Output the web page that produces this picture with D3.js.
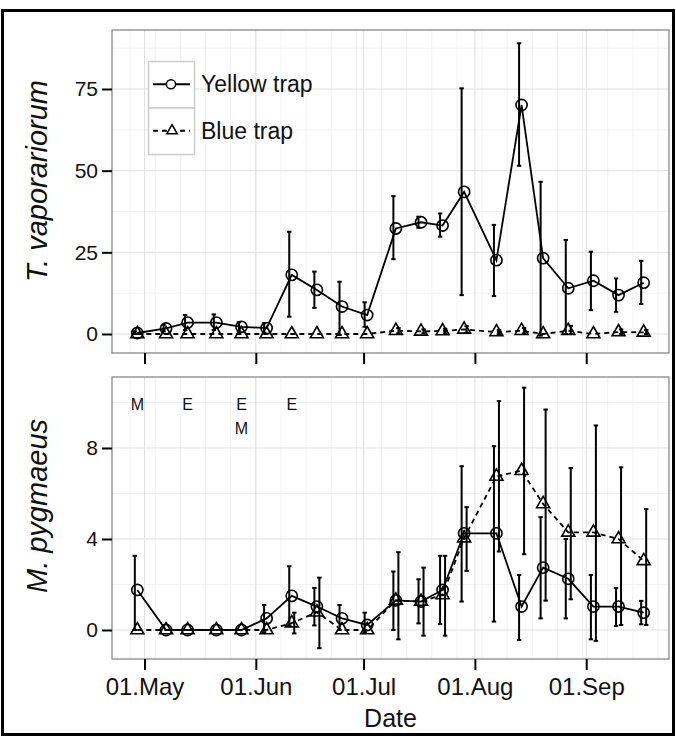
<!DOCTYPE html>
<html lang="en">
<head>
<meta charset="UTF-8">
<title>Traps</title>
<script src="https://cdnjs.cloudflare.com/ajax/libs/d3/7.8.5/d3.min.js"></script>
<style>
    body { margin: 0; background: #fff; }
    svg { display: block; font-family: "Liberation Sans", Arial, sans-serif; }
</style>
</head>
<body>
<svg width="676" height="737"></svg>
<script>
"use strict";

// sampling dates
const dates = ["2015-04-29", "2015-05-07", "2015-05-13", "2015-05-21", "2015-05-28", "2015-06-04", "2015-06-11",
    "2015-06-18", "2015-06-25", "2015-07-02", "2015-07-10", "2015-07-17", "2015-07-23", "2015-07-29",
    "2015-08-07", "2015-08-14", "2015-08-20", "2015-08-27", "2015-09-03", "2015-09-10", "2015-09-17"];

// T. vaporariorum
const tvYellow   = [0.3, 1.7, 3.5, 3.5, 2.2, 1.8, 18.1, 13.5, 8.4, 5.8, 32.3, 34.2, 33.2, 43.5, 22.6, 70.1, 23.2, 14.0, 16.3, 11.9, 15.7];
const tvYellowLo = [0.0, 0.8, 1.2, 1.2, 0.8, 0.4, 5.3, 8.0, -0.3, 2.2, 22.9, 32.5, 29.8, 11.9, 11.6, 51.5, -0.5, 0.0, 7.3, 6.8, 9.2];
const tvYellowHi = [0.8, 2.8, 5.8, 6.0, 3.6, 3.3, 31.3, 19.1, 16.0, 9.7, 42.2, 35.9, 36.9, 75.2, 33.4, 89.0, 46.6, 28.8, 25.2, 17.0, 22.4];
const tvBlue     = [0, 0, 0, 0, 0, 0, 0, 0, 0, 0, 1.0, 0.8, 0.9, 1.4, 0.6, 1.0, 0, 1.0, 0, 0.6, 0.5];
const tvBlueLo   = [0, 0, 0, 0, 0, 0, 0, 0, 0, 0, 0.2, 0.2, 0.2, 0.4, 0.0, 0.2, 0, 0.0, 0, 0.0, 0.0];
const tvBlueHi   = [0, 0, 0, 0, 0, 0, 0, 0, 0, 0, 1.8, 1.4, 1.6, 2.4, 1.2, 1.8, 0, 2.5, 0, 1.4, 1.2];

// M. pygmaeus
const mpYellow   = [1.76, 0, 0, 0, 0, 0.51, 1.5, 1.03, 0.51, 0.22, 1.3, 1.25, 1.76, 4.25, 4.25, 1.03, 2.74, 2.25, 1.03, 1.03, 0.76];
const mpYellowLo = [0, 0, 0, 0, 0, -0.1, 0.2, 0.2, 0, -0.1, 0, 0.29, 0.26, 1.25, 0.37, -0.44, 0.51, 0.51, -0.41, 0.18, 0.25];
const mpYellowHi = [3.26, 0, 0, 0, 0, 1.1, 2.8, 1.85, 1.1, 0.76, 2.57, 2.23, 3.26, 7.2, 8.08, 2.42, 4.96, 4.0, 2.42, 1.84, 1.28];
const mpBlue     = [0, 0, 0, 0, 0, 0, 0.3, 0.78, 0, 0, 1.3, 1.25, 1.54, 4.04, 6.75, 7.0, 5.54, 4.29, 4.29, 4.0, 3.04];
const mpBlueLo   = [0, 0, 0, 0, 0, 0, -0.15, -0.8, 0, 0, -0.41, -0.25, -0.25, 2.6, 3.45, 3.33, 1.29, 1.35, -0.48, 0.22, 0.22];
const mpBlueHi   = [0, 0, 0, 0, 0, 0, 0.76, 2.3, 0, 0, 3.42, 2.74, 3.26, 5.4, 10.06, 10.65, 9.69, 7.12, 8.99, 7.15, 5.31];

// release notes in the lower panel
const noteIdx  = [0, 2, 4, 6];
const noteText = [["M"], ["E"], ["E", "M"], ["E"]];
const noteY = 9.93;

const tvTicks = [0, 25, 50, 75];
const mpTicks = [0, 4, 8];
const seriesNames = ["Yellow trap", "Blue trap"];

const svg = d3.select("svg");
const parse = d3.timeParse("%Y-%m-%d");
const days = dates.map(parse);

const left = 112, right = 669;
const span = days[days.length - 1] - days[0];
const x = d3.scaleTime()
    .domain([new Date(+days[0] - 0.05 * span), new Date(+days[days.length - 1] + 0.05 * span)])
    .range([left, right]);

const monthTicks = d3.timeMonth.range(d3.timeMonth.ceil(x.domain()[0]), x.domain()[1]);
const weekTicks = d3.timeMonday.range(x.domain()[0], x.domain()[1]);

// outer frame
svg.append("rect")
    .attr("x", 2.5).attr("y", 10.5).attr("width", 671).attr("height", 724)
    .attr("fill", "none").attr("stroke", "#000").attr("stroke-width", 3);

function trianglePath(cx, cy, s) {
    const h = s * Math.sqrt(3) / 2;
    return `M${cx},${cy - h * 2 / 3}L${cx + s / 2},${cy + h / 3}L${cx - s / 2},${cy + h / 3}Z`;
}

function drawPanel(p) {
    const y = d3.scaleLinear().domain(p.domain).range([p.bottom, p.top]);
    const g = svg.append("g");

    g.append("rect")
        .attr("x", left).attr("y", p.top).attr("width", right - left).attr("height", p.bottom - p.top)
        .attr("fill", "#fff");

    // minor grid
    g.selectAll(".vminor").data(weekTicks).enter().append("line")
        .attr("x1", d => x(d)).attr("x2", d => x(d)).attr("y1", p.top).attr("y2", p.bottom)
        .attr("stroke", "#f2f2f2").attr("stroke-width", 1);
    g.selectAll(".hminor").data(p.minor).enter().append("line")
        .attr("x1", left).attr("x2", right).attr("y1", d => y(d)).attr("y2", d => y(d))
        .attr("stroke", "#f2f2f2").attr("stroke-width", 1);
    // major grid
    g.selectAll(".vmajor").data(monthTicks).enter().append("line")
        .attr("x1", d => x(d)).attr("x2", d => x(d)).attr("y1", p.top).attr("y2", p.bottom)
        .attr("stroke", "#e0e0e0").attr("stroke-width", 1);
    g.selectAll(".hmajor").data(p.ticks).enter().append("line")
        .attr("x1", left).attr("x2", right).attr("y1", d => y(d)).attr("y2", d => y(d))
        .attr("stroke", "#e0e0e0").attr("stroke-width", 1);

    const series = [
        { v: p.yellow, lo: p.yellowLo, hi: p.yellowHi, dx: -2.5, dash: null },
        { v: p.blue, lo: p.blueLo, hi: p.blueHi, dx: 2.5, dash: "5,4" },
    ];

    // error bars
    series.forEach(s => {
        const idx = d3.range(days.length).filter(i => s.hi[i] - s.lo[i] > 0);
        const eb = g.append("g").attr("stroke", "#000").attr("stroke-width", 2);
        eb.selectAll("line.bar").data(idx).enter().append("line")
            .attr("x1", i => x(days[i]) + s.dx).attr("x2", i => x(days[i]) + s.dx)
            .attr("y1", i => y(s.lo[i])).attr("y2", i => y(s.hi[i]));
        [s.lo, s.hi].forEach(arr => {
            eb.selectAll(null).data(idx).enter().append("line")
                .attr("x1", i => x(days[i]) + s.dx - 2.2).attr("x2", i => x(days[i]) + s.dx + 2.2)
                .attr("y1", i => y(arr[i])).attr("y2", i => y(arr[i]));
        });
    });

    // lines
    series.forEach(s => {
        const line = d3.line().x((d, i) => x(days[i])).y(d => y(d));
        g.append("path").datum(s.v)
            .attr("d", line).attr("fill", "none").attr("stroke", "#000")
            .attr("stroke-width", 1.8).attr("stroke-dasharray", s.dash);
    });

    // points
    g.selectAll("circle.pt").data(p.yellow).enter().append("circle")
        .attr("cx", (d, i) => x(days[i])).attr("cy", d => y(d)).attr("r", 5.6)
        .attr("fill", "none").attr("stroke", "#000").attr("stroke-width", 1.6);
    g.selectAll("path.tri").data(p.blue).enter().append("path")
        .attr("d", (d, i) => trianglePath(x(days[i]), y(d), 13))
        .attr("fill", "none").attr("stroke", "#000").attr("stroke-width", 1.6);

    // panel border
    g.append("rect")
        .attr("x", left).attr("y", p.top).attr("width", right - left).attr("height", p.bottom - p.top)
        .attr("fill", "none").attr("stroke", "#7f7f7f").attr("stroke-width", 1.2);

    // axes
    const yAxis = g.append("g").attr("transform", `translate(${left},0)`)
        .call(d3.axisLeft(y).tickValues(p.ticks).tickSize(10).tickPadding(4));
    yAxis.select(".domain").remove();
    yAxis.selectAll(".tick line").attr("stroke", "#000").attr("stroke-width", 2);
    yAxis.selectAll(".tick text").attr("font-size", 21).attr("fill", "#111")
        .attr("font-family", "Liberation Sans, Arial, sans-serif");

    const xAxis = g.append("g").attr("transform", `translate(0,${p.bottom})`)
        .call(d3.axisBottom(x).tickValues(monthTicks).tickFormat(d3.timeFormat("%d.%b")).tickSize(11).tickPadding(8));
    xAxis.select(".domain").remove();
    xAxis.selectAll(".tick line").attr("stroke", "#000").attr("stroke-width", 2);
    xAxis.selectAll(".tick text").attr("font-size", 24).attr("fill", "#111")
        .attr("font-family", "Liberation Sans, Arial, sans-serif");
    if (!p.xLabels) xAxis.selectAll(".tick text").remove();

    // axis title
    g.append("text")
        .attr("transform", `translate(47,${p.titleY}) rotate(-90)`)
        .attr("text-anchor", "middle").attr("font-size", 29).attr("font-style", "italic")
        .attr("fill", "#111").text(p.title);

    return y;
}

const yTop = drawPanel({
    top: 30, bottom: 353, domain: [-5.82, 93.06], ticks: tvTicks, minor: [12.5, 37.5, 62.5, 87.5],
    yellow: tvYellow, yellowLo: tvYellowLo, yellowHi: tvYellowHi,
    blue: tvBlue, blueLo: tvBlueLo, blueHi: tvBlueHi,
    title: "T. vaporariorum", titleY: 181, xLabels: false,
});

const yBot = drawPanel({
    top: 377, bottom: 659, domain: [-1.275, 11.12], ticks: mpTicks, minor: [2, 6, 10],
    yellow: mpYellow, yellowLo: mpYellowLo, yellowHi: mpYellowHi,
    blue: mpBlue, blueLo: mpBlueLo, blueHi: mpBlueHi,
    title: "M. pygmaeus", titleY: 506, xLabels: true,
});

// notes
const notes = svg.append("g").attr("font-size", 16).attr("fill", "#111").attr("text-anchor", "middle");
noteIdx.forEach((d, k) => {
    noteText[k].forEach((t, j) => {
        notes.append("text")
            .attr("x", x(days[d])).attr("y", yBot(noteY) + 6 + j * 23.6)
            .text(t);
    });
});

// x title
svg.append("text")
    .attr("x", (left + right) / 2).attr("y", 727)
    .attr("text-anchor", "middle").attr("font-size", 25).attr("fill", "#111")
    .text("Date");

// legend
const legend = svg.append("g").attr("transform", "translate(148,61)");
const keyW = 46, keyH = 46.5;
seriesNames.forEach((name, i) => {
    const ky = i * keyH;
    legend.append("rect")
        .attr("x", 0.5).attr("y", ky + 0.5).attr("width", keyW).attr("height", keyH)
        .attr("fill", "#fff").attr("stroke", "#cccccc").attr("stroke-width", 1.5);
    legend.append("line")
        .attr("x1", 5).attr("x2", keyW - 4).attr("y1", ky + keyH / 2).attr("y2", ky + keyH / 2)
        .attr("stroke", "#000").attr("stroke-width", 1.8)
        .attr("stroke-dasharray", i === 1 ? "5,4" : null);
    if (i === 0) {
        legend.append("circle")
            .attr("cx", keyW / 2).attr("cy", ky + keyH / 2).attr("r", 4.6)
            .attr("fill", "#fff").attr("stroke", "#000").attr("stroke-width", 1.5);
    } else {
        legend.append("path")
            .attr("d", trianglePath(keyW / 2 + 1, ky + keyH / 2, 10.5))
            .attr("fill", "#fff").attr("stroke", "#000").attr("stroke-width", 1.5);
    }
    legend.append("text")
        .attr("x", 53).attr("y", ky + keyH / 2 + 8)
        .attr("font-size", 23).attr("fill", "#111")
        .text(name);
});
</script>
</body>
</html>
